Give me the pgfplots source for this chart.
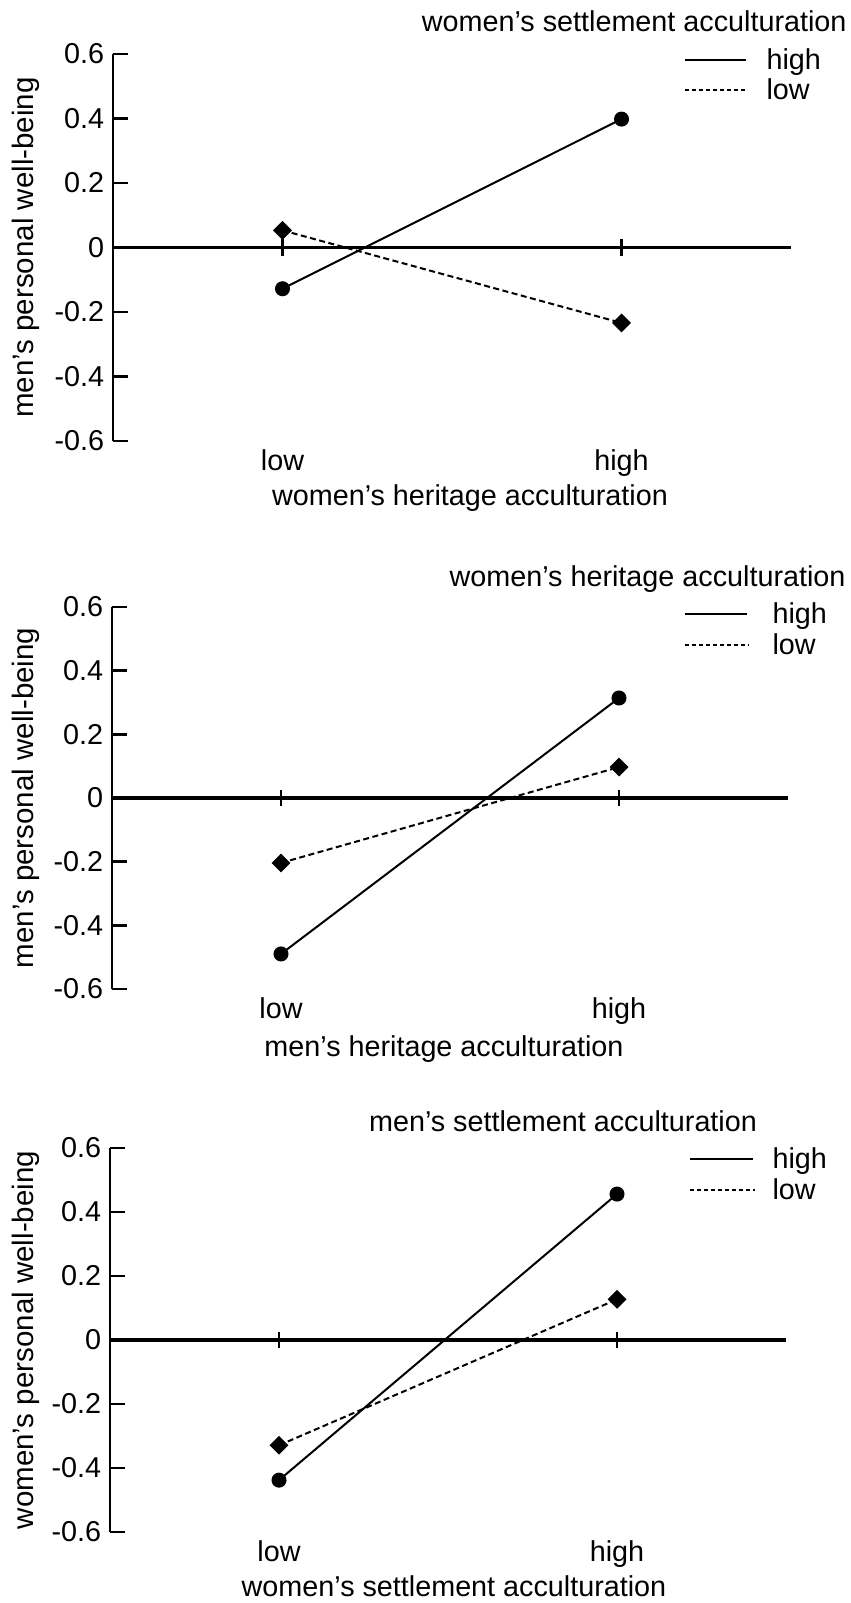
\documentclass[border=0pt]{standalone}
\usepackage{pgfplots}
\pgfplotsset{compat=1.18}
\usepackage{fontspec}
\setmainfont{Liberation Sans}
\newcommand{\lbl}{\fontsize{11.5}{14}\selectfont}
\newcommand{\ylbl}{\fontsize{11.8}{14}\selectfont}
\newcommand{\tck}{\fontsize{11.5}{13}\selectfont}
\tikzset{zt/.style={line width=1pt, black}}
\pgfplotsset{
  panel/.style={
    scale only axis,
    xmin=-0.5, xmax=1.5, ymin=-0.6, ymax=0.6,
    axis x line=bottom, axis y line=left,
    x axis line style={draw=none},
    y axis line style={-, line width=1pt},
    xtick={0,1}, xticklabels={low,high},
    xtick style={draw=none},
    ytick={-0.6,-0.4,-0.2,0,0.2,0.4,0.6},
    yticklabels={-0.6,-0.4,-0.2,0,0.2,0.4,0.6},
    ytick style={line width=1pt, black},
    tick align=inside,
    major tick length=6pt,
    extra y ticks={0}, extra y tick labels={},
    extra y tick style={grid=major, major grid style={line width=1.25pt, black}, tick style={draw=none}},
    yticklabel style={font=\tck},
    xticklabel style={font=\lbl},
    clip=false,
  },
  hi/.style={black, line width=0.8pt, mark=*, mark size=2.6pt},
  lo/.style={black, line width=0.8pt, dash pattern=on 2.4pt off 1.4pt, mark=square*, mark size=2.26pt, mark options={rotate=45, solid}},
}
\begin{document}
\begin{tikzpicture}[x=0.4pt, y=0.4pt]
\useasboundingbox (0,0) rectangle (851,1603);

% ---------- Panel 1 ----------
\begin{axis}[panel, width=271.2pt, height=154.8pt, at={(45.2pt,464.8pt)}, anchor=south west]
  \addplot[hi] coordinates {(0,-0.128) (1,0.398)};
  \addplot[lo] coordinates {(0,0.053) (1,-0.234)};
  \draw[zt] (axis cs:0,-0.025) -- (axis cs:0,0.025);
  \draw[zt] (axis cs:1,-0.025) -- (axis cs:1,0.025);
\end{axis}
\node[font=\lbl, anchor=base east, inner sep=0pt] at (847,1571) {women’s settlement acculturation};
\draw[line width=0.9pt] (685,1543) -- (746,1543);
\draw[line width=0.8pt, dash pattern=on 1.6pt off 1.2pt] (685,1513) -- (748,1513);
\node[font=\lbl, anchor=base west, inner sep=0pt] at (766,1533) {high};
\node[font=\lbl, anchor=base west, inner sep=0pt] at (766,1503) {low};
\node[font=\ylbl, rotate=90, anchor=base, inner sep=0pt] at (33,1355.5) {men’s personal well-being};
\node[font=\lbl, anchor=base, inner sep=0pt] at (470,1097) {women’s heritage acculturation};

% ---------- Panel 2 ----------
\begin{axis}[panel, width=270.4pt, height=152.8pt, at={(44.8pt,245.6pt)}, anchor=south west]
  \addplot[hi] coordinates {(0,-0.49) (1,0.314)};
  \addplot[lo] coordinates {(0,-0.204) (1,0.097)};
  \draw[zt] (axis cs:0,-0.025) -- (axis cs:0,0.025);
  \draw[zt] (axis cs:1,-0.025) -- (axis cs:1,0.025);
\end{axis}
\node[font=\lbl, anchor=base east, inner sep=0pt] at (846,1016) {women’s heritage acculturation};
\draw[line width=0.9pt] (685,989) -- (747,989);
\draw[line width=0.8pt, dash pattern=on 1.6pt off 1.2pt] (685,958) -- (749,958);
\node[font=\lbl, anchor=base west, inner sep=0pt] at (772,979) {high};
\node[font=\lbl, anchor=base west, inner sep=0pt] at (772,948) {low};
\node[font=\ylbl, rotate=90, anchor=base, inner sep=0pt] at (33,805) {men’s personal well-being};
\node[font=\lbl, anchor=base, inner sep=0pt] at (444,546) {men’s heritage acculturation};

% ---------- Panel 3 ----------
\begin{axis}[panel, width=270.4pt, height=153.6pt, at={(44pt,28.4pt)}, anchor=south west]
  \addplot[hi] coordinates {(0,-0.438) (1,0.456)};
  \addplot[lo] coordinates {(0,-0.329) (1,0.127)};
  \draw[zt] (axis cs:0,-0.025) -- (axis cs:0,0.025);
  \draw[zt] (axis cs:1,-0.025) -- (axis cs:1,0.025);
\end{axis}
\node[font=\lbl, anchor=base, inner sep=0pt] at (563,471) {men’s settlement acculturation};
\draw[line width=0.9pt] (690,444) -- (753,444);
\draw[line width=0.8pt, dash pattern=on 1.6pt off 1.2pt] (690,413) -- (755,413);
\node[font=\lbl, anchor=base west, inner sep=0pt] at (772,434) {high};
\node[font=\lbl, anchor=base west, inner sep=0pt] at (772,403) {low};
\node[font=\ylbl, rotate=90, anchor=base, inner sep=0pt] at (33,263) {women’s personal well-being};
\node[font=\lbl, anchor=base, inner sep=0pt] at (454,6) {women’s settlement acculturation};
\end{tikzpicture}
\end{document}
